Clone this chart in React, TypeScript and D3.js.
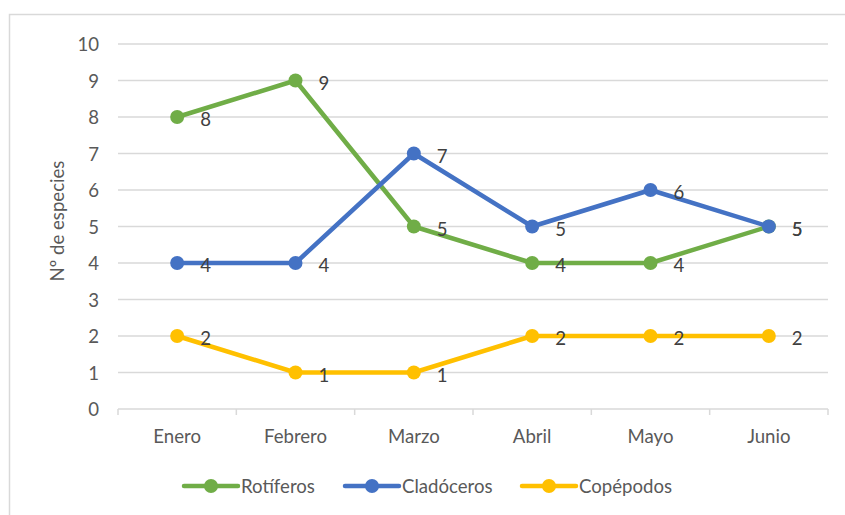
import { useEffect, useRef } from "react"
import * as d3 from "d3"

const months = ["Enero", "Febrero", "Marzo", "Abril", "Mayo", "Junio"]
const rotiferos = [8, 9, 5, 4, 4, 5]
const cladoceros = [4, 4, 7, 5, 6, 5]
const copepodos = [2, 1, 1, 2, 2, 2]
const yTicks = [0, 1, 2, 3, 4, 5, 6, 7, 8, 9, 10]

const seriesNames = ["Rotíferos", "Cladóceros", "Copépodos"]
const seriesColors = ["#70AD47", "#4472C4", "#FFC000"]

const FONT = "Lato, 'Open Sans', sans-serif"
const FS = "18.6px"

export default function App() {
  const svgRef = useRef<SVGSVGElement>(null)

  useEffect(() => {
    if (!svgRef.current) return
    const svg = d3.select(svgRef.current)
    svg.selectAll("*").remove()

    const width = 845
    const height = 515
    const left = 118
    const right = 828
    const top = 44
    const bottom = 409

    // chart frame (Excel style light border)
    svg
      .append("rect")
      .attr("x", 9.5)
      .attr("y", 14.5)
      .attr("width", width)
      .attr("height", height)
      .attr("fill", "#fff")
      .attr("stroke", "#d9d9d9")
      .attr("stroke-width", 1.5)

    const x = d3.scaleBand<string>().domain(months).range([left, right])
    const y = d3.scaleLinear().domain([0, 10]).range([bottom, top])
    const cx = (m: string) => (x(m) as number) + x.bandwidth() / 2

    // gridlines
    svg
      .append("g")
      .selectAll("line")
      .data(yTicks)
      .enter()
      .append("line")
      .attr("x1", left)
      .attr("x2", right)
      .attr("y1", (d) => y(d))
      .attr("y2", (d) => y(d))
      .attr("stroke", "#d9d9d9")
      .attr("stroke-width", 1.5)

    // x tick marks at band edges
    const edges = months.map((m) => x(m) as number).concat([right])
    svg
      .append("g")
      .selectAll("line")
      .data(edges)
      .enter()
      .append("line")
      .attr("x1", (d) => d)
      .attr("x2", (d) => d)
      .attr("y1", bottom)
      .attr("y2", bottom + 6)
      .attr("stroke", "#d9d9d9")
      .attr("stroke-width", 1.5)

    // y tick labels
    svg
      .append("g")
      .selectAll("text")
      .data(yTicks)
      .enter()
      .append("text")
      .attr("x", 99)
      .attr("y", (d) => y(d))
      .attr("text-anchor", "end")
      .attr("dominant-baseline", "central")
      .attr("font-family", FONT)
      .attr("font-size", FS)
      .attr("fill", "#595959")
      .text((d) => d)

    // x tick labels
    svg
      .append("g")
      .selectAll("text")
      .data(months)
      .enter()
      .append("text")
      .attr("x", (d) => cx(d))
      .attr("y", 436)
      .attr("text-anchor", "middle")
      .attr("dominant-baseline", "central")
      .attr("font-family", FONT)
      .attr("font-size", FS)
      .attr("fill", "#595959")
      .text((d) => d)

    // y axis title
    svg
      .append("text")
      .attr("transform", "translate(57, 221) rotate(-90)")
      .attr("text-anchor", "middle")
      .attr("dominant-baseline", "central")
      .attr("font-family", FONT)
      .attr("font-size", FS)
      .attr("fill", "#595959")
      .text("Nº de especies")

    const allSeries = [rotiferos, cladoceros, copepodos]
    const line = d3
      .line<number>()
      .x((_, i) => cx(months[i]))
      .y((d) => y(d))

    allSeries.forEach((vals, si) => {
      const g = svg.append("g")
      g.append("path")
        .datum(vals)
        .attr("d", line)
        .attr("fill", "none")
        .attr("stroke", seriesColors[si])
        .attr("stroke-width", 4.5)
        .attr("stroke-linejoin", "round")
        .attr("stroke-linecap", "round")
      g.selectAll("circle")
        .data(vals)
        .enter()
        .append("circle")
        .attr("cx", (_, i) => cx(months[i]))
        .attr("cy", (d) => y(d))
        .attr("r", 7)
        .attr("fill", seriesColors[si])
    })

    // data labels (right of the point)
    allSeries.forEach((vals) => {
      svg
        .append("g")
        .selectAll("text")
        .data(vals)
        .enter()
        .append("text")
        .attr("x", (_, i) => cx(months[i]) + 23)
        .attr("y", (d) => y(d) + 2)
        .attr("dominant-baseline", "central")
        .attr("font-family", FONT)
        .attr("font-size", FS)
        .attr("fill", "#404040")
        .text((d) => d)
    })

    // legend
    const legendX = [184, 345, 522]
    const legendY = 486
    seriesNames.forEach((name, i) => {
      const g = svg.append("g").attr("transform", `translate(${legendX[i]}, ${legendY})`)
      g.append("line")
        .attr("x1", 0)
        .attr("x2", 54)
        .attr("y1", 0)
        .attr("y2", 0)
        .attr("stroke", seriesColors[i])
        .attr("stroke-width", 4.5)
        .attr("stroke-linecap", "round")
      g.append("circle").attr("cx", 27).attr("cy", 0).attr("r", 7).attr("fill", seriesColors[i])
      g.append("text")
        .attr("x", 57)
        .attr("y", 0)
        .attr("dominant-baseline", "central")
        .attr("font-family", FONT)
        .attr("font-size", FS)
        .attr("fill", "#595959")
        .text(name)
    })
  }, [])

  return (
    <div style={{ position: "absolute", left: 0, top: 0 }}>
      <svg ref={svgRef} width={845} height={515} style={{ display: "block" }} />
    </div>
  )
}
